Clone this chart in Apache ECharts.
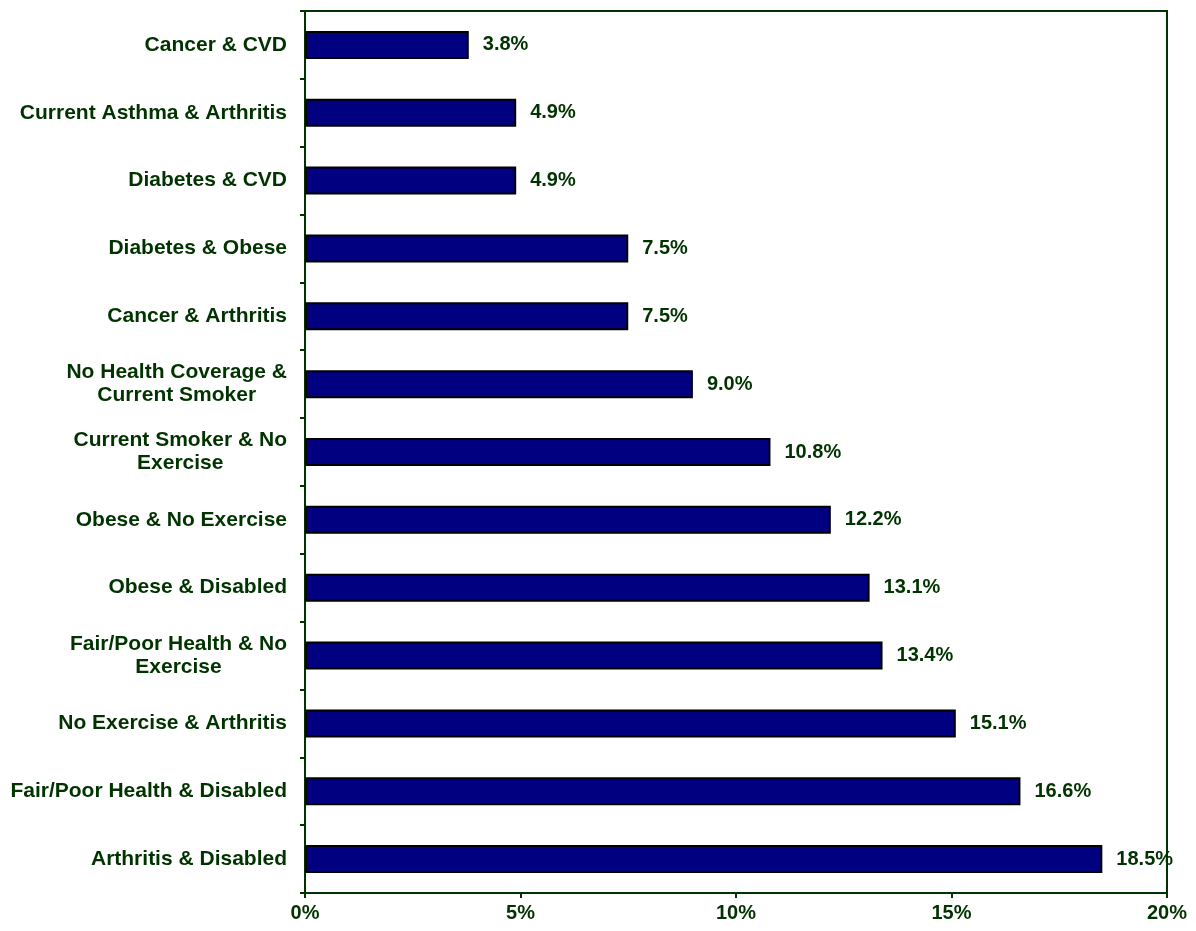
<!DOCTYPE html>
<html>
<head>
<meta charset="utf-8">
<script src="https://cdn.jsdelivr.net/npm/echarts@6/dist/echarts.min.js"></script>
<style>
  body { margin: 0; background: #fff; }
  #chart { width: 1196px; height: 931px; }
</style>
</head>
<body>
<div id="chart"></div>
<script>
// bottom to top, as the category axis is drawn
var categories = [
  "Arthritis & Disabled",
  "Fair/Poor Health & Disabled",
  "No Exercise & Arthritis",
  "Fair/Poor Health & No\nExercise",
  "Obese & Disabled",
  "Obese & No Exercise",
  "Current Smoker & No\nExercise",
  "No Health Coverage &\nCurrent Smoker",
  "Cancer & Arthritis",
  "Diabetes & Obese",
  "Diabetes & CVD",
  "Current Asthma & Arthritis",
  "Cancer & CVD"
];
var values = [18.5, 16.6, 15.1, 13.4, 13.1, 12.2, 10.8, 9.0, 7.5, 7.5, 4.9, 4.9, 3.8];

var green = "#003300";
var font = "Liberation Sans, Arial, sans-serif";

var chart = echarts.init(document.getElementById("chart"));
chart.setOption({
  animation: false,
  grid: {
    left: 305, right: 29, top: 11, bottom: 38,
    show: true, borderColor: green, borderWidth: 2
  },
  xAxis: {
    type: "value",
    min: 0, max: 20, interval: 5,
    splitLine: { show: false },
    axisLine: { show: true, lineStyle: { color: green, width: 2 } },
    axisTick: { show: true, length: 5, lineStyle: { color: green, width: 2 } },
    axisLabel: {
      formatter: "{value}%",
      color: green, fontFamily: font, fontWeight: "bold", fontSize: 20, margin: 10
    }
  },
  yAxis: {
    type: "category",
    data: categories,
    axisLine: { show: true, lineStyle: { color: green, width: 2 } },
    axisTick: { show: true, length: 5, lineStyle: { color: green, width: 2 } },
    axisLabel: {
      margin: 18,
      formatter: function (v) {
        return v.split("\n").map(function (s) { return "{c|" + s + "}"; }).join("\n");
      },
      rich: {
        c: { align: "center", color: green, fontFamily: font, fontWeight: "bold", fontSize: 21, lineHeight: 23 }
      }
    }
  },
  series: [{
    type: "bar",
    data: values,
    barWidth: 28,
    itemStyle: {
      color: "#000080",
      borderColor: "#000000",
      borderWidth: 2
    },
    label: {
      show: true,
      position: "right",
      distance: 14,
      formatter: function (p) { return p.value.toFixed(1) + "%"; },
      color: green, fontFamily: font, fontWeight: "bold", fontSize: 20
    }
  }]
});
</script>
</body>
</html>
